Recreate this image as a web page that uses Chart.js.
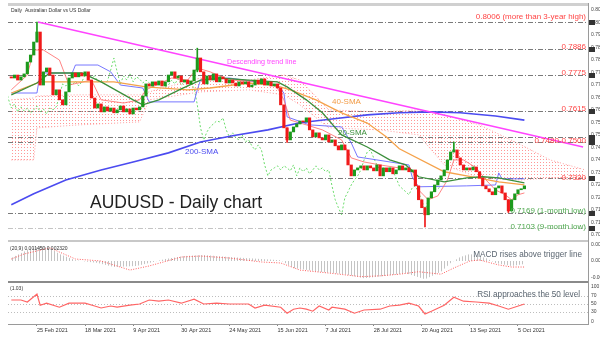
<!DOCTYPE html>
<html>
<head>
<meta charset="utf-8">
<script src="https://cdn.jsdelivr.net/npm/chart.js@4.4.1/dist/chart.umd.min.js"></script>
<style>
  html, body { margin: 0; padding: 0; background: #fff; }
  #wrap { position: relative; width: 600px; height: 340px; overflow: hidden; }
  #wrap div { position: absolute; left: 0; width: 600px; }
</style>
</head>
<body>
<div id="wrap">
  <div style="top:0;height:242px"><canvas id="main"></canvas></div>
  <div style="top:242px;height:41px"><canvas id="macd"></canvas></div>
  <div style="top:283px;height:57px"><canvas id="rsi"></canvas></div>
</div>
<script>
// AUDUSD daily candles, mid Feb - 6 Oct 2021 (bar index 0..160)
const firstOpen = 0.7765;
const closes = [
  0.7760, 0.7773, 0.7751, 0.7765, 0.7778, 0.7830, 0.7861, 0.7918, 0.7962, 0.7729,
  0.7787, 0.7804, 0.7773, 0.7686, 0.7708, 0.7664, 0.7642, 0.7699, 0.7760, 0.7782,
  0.7765, 0.7782, 0.7769, 0.7787, 0.7751, 0.7672, 0.7628, 0.7646, 0.7611, 0.7633,
  0.7615, 0.7628, 0.7607, 0.7620, 0.7637, 0.7611, 0.7624, 0.7602, 0.7628, 0.7620,
  0.7633, 0.7681, 0.7734, 0.7725, 0.7743, 0.7729, 0.7747, 0.7725, 0.7743, 0.7773,
  0.7787, 0.7760, 0.7769, 0.7743, 0.7751, 0.7734, 0.7747, 0.7795, 0.7848, 0.7787,
  0.7734, 0.7769, 0.7751, 0.7778, 0.7743, 0.7765, 0.7756, 0.7738, 0.7751, 0.7738,
  0.7725, 0.7743, 0.7734, 0.7743, 0.7721, 0.7729, 0.7751, 0.7734, 0.7756, 0.7729,
  0.7743, 0.7725, 0.7734, 0.7716, 0.7642, 0.7541, 0.7488, 0.7523, 0.7545, 0.7558,
  0.7571, 0.7567, 0.7585, 0.7532, 0.7501, 0.7519, 0.7497, 0.7488, 0.7510, 0.7479,
  0.7488, 0.7462, 0.7444, 0.7466, 0.7444, 0.7378, 0.7330, 0.7356, 0.7365, 0.7374,
  0.7356, 0.7374, 0.7365, 0.7352, 0.7378, 0.7330, 0.7365, 0.7348, 0.7365, 0.7339,
  0.7356, 0.7374, 0.7356, 0.7365, 0.7348, 0.7356, 0.7286, 0.7225, 0.7190, 0.7159,
  0.7233, 0.7260, 0.7290, 0.7312, 0.7330, 0.7356, 0.7400, 0.7435, 0.7444, 0.7409,
  0.7378, 0.7356, 0.7365, 0.7356, 0.7369, 0.7348, 0.7321, 0.7286, 0.7273, 0.7260,
  0.7247, 0.7277, 0.7286, 0.7255, 0.7225, 0.7176, 0.7225, 0.7251, 0.7269, 0.7273, 0.7286
];
// a few visible wicks
const wickIdx  = [8, 58, 86, 129, 138, 155];
const wickHigh = [0.8006, 0.7891, 0.7541, 0.7190, 0.7478, 0.7225];
const wickLow  = [0.7918, 0.7787, 0.7477, 0.7106, 0.7435, 0.7169];

const sma20Idx = [0, 8, 12, 22, 28, 38, 41, 46, 53, 59, 65, 74, 83, 86, 92, 97, 103, 111, 118, 123, 127, 135, 142, 147, 152, 160];
const sma20    = [0.7686, 0.7738, 0.7782, 0.7782, 0.7743, 0.7664, 0.7642, 0.7664, 0.7712, 0.7751, 0.7760, 0.7751, 0.7743, 0.7721, 0.7664, 0.7607, 0.7510, 0.7457, 0.7400, 0.7378, 0.7326, 0.7304, 0.7321, 0.7326, 0.7321, 0.7299];
const sma40Idx = [0, 9, 32, 42, 55, 62, 74, 82, 87, 95, 103, 111, 117, 121, 135, 142, 152, 160];
const sma40    = [0.7694, 0.7743, 0.7743, 0.7721, 0.7708, 0.7716, 0.7738, 0.7729, 0.7708, 0.7664, 0.7607, 0.7562, 0.7501, 0.7449, 0.7348, 0.7330, 0.7304, 0.7290];
const sma200Idx = [0, 7, 17, 28, 38, 49, 59, 69, 80, 90, 100, 111, 121, 131, 140, 151, 160];
const sma200    = [0.7203, 0.7251, 0.7312, 0.7356, 0.7391, 0.7431, 0.7479, 0.7506, 0.7532, 0.7563, 0.7580, 0.7598, 0.7607, 0.7611, 0.7607, 0.7593, 0.7575];

// ichimoku
const tenkanIdx = [0, 5, 7, 10, 15, 18, 25, 28, 35, 40, 42, 50, 55, 58, 62, 68, 80, 83, 85, 87, 92, 97, 103, 106, 110, 115, 125, 127, 130, 133, 136, 138, 141, 145, 148, 151, 154, 156, 158, 160];
const tenkan    = [0.7708, 0.7773, 0.7883, 0.7883, 0.7839, 0.7729, 0.7751, 0.7664, 0.7650, 0.7664, 0.7708, 0.7760, 0.7751, 0.7804, 0.7787, 0.7751, 0.7743, 0.7716, 0.7664, 0.7575, 0.7554, 0.7532, 0.7488, 0.7409, 0.7391, 0.7378, 0.7356, 0.7268, 0.7225, 0.7242, 0.7312, 0.7400, 0.7400, 0.7365, 0.7312, 0.7268, 0.7247, 0.7225, 0.7247, 0.7255];
const kijunIdx = [0, 8, 9, 19, 20, 27, 31, 34, 41, 43, 57, 58, 59, 68, 83, 85, 86, 93, 103, 106, 108, 114, 124, 125, 127, 142, 151, 152, 153, 160];
const kijun    = [0.7694, 0.7694, 0.7782, 0.7782, 0.7817, 0.7817, 0.7787, 0.7729, 0.7716, 0.7655, 0.7655, 0.7708, 0.7751, 0.7760, 0.7729, 0.7694, 0.7589, 0.7554, 0.7545, 0.7475, 0.7413, 0.7400, 0.7378, 0.7326, 0.7282, 0.7286, 0.7290, 0.7343, 0.7317, 0.7317];
const cloudIdx = [0, 7, 8, 21, 40, 43, 59, 74, 85, 90, 99, 115, 127, 135, 146, 159, 168, 179];
const spanA    = [0.7664, 0.7672, 0.7681, 0.7686, 0.7686, 0.7699, 0.7760, 0.7751, 0.7773, 0.7751, 0.7620, 0.7611, 0.7620, 0.7598, 0.7554, 0.7466, 0.7400, 0.7356];
const spanB    = [0.7400, 0.7400, 0.7541, 0.7554, 0.7567, 0.7664, 0.7699, 0.7708, 0.7686, 0.7642, 0.7541, 0.7532, 0.7510, 0.7378, 0.7321, 0.7312, 0.7321, 0.7321];
const chikouShift = 26;

const trendIdx = [8.3, 178.3];
const trendVal = [0.8006, 0.7457];

const levels = [0.8006, 0.7886, 0.7775, 0.7615, 0.7500, 0.7480, 0.7320, 0.7169, 0.7103];
const levelNotes = ['0.8006 (more than 3-year high)', '0.7886', '0.7775', '0.7615', '0.7480-0.7500', '0.7320', '0.7169 (1-month low)', '0.7103 (9-month low)'];
const noteAt = [0.8006, 0.7886, 0.7775, 0.7615, 0.7490, 0.7320, 0.7169, 0.7103];
const priceTicks = [0.8060, 0.8005, 0.7950, 0.7895, 0.7840, 0.7785, 0.7730, 0.7675, 0.7620, 0.7565, 0.7510, 0.7455, 0.7400, 0.7345, 0.7290, 0.7235, 0.7180, 0.7125, 0.7070];

// MACD
const macdIdx  = [0, 5, 9, 12, 15, 20, 27, 32, 39, 43, 48, 54, 60, 68, 78, 84, 88, 96, 104, 110, 117, 123, 129, 134, 137, 140, 143, 148, 151, 156, 160];
const macdMain = [0.00036, 0.00133, 0.0018, 0.0016, 0.00085, 0.0001, -0.00024, -0.00073, -0.0006, -0.00024, 0.00024, 0.0006, 0.00073, 0.00048, 0.00024, 0.0001, -0.00085, -0.0013, -0.0016, -0.0021, -0.0018, -0.0015, -0.0022, -0.0013, -0.00024, 0.00048, 0.00085, 0.00036, -0.00024, -0.0006, -0.00036];
const signalIdx  = [0, 4, 12, 20, 28, 37, 43, 53, 59, 68, 78, 84, 90, 100, 109, 115, 121, 127, 134, 138, 143, 146, 152, 156, 160];
const macdSignal = [0.00024, 0.00085, 0.0016, 0.00024, 0, -0.0011, -0.0006, 0.00048, 0.0006, 0.00036, -0.00012, -0.00024, -0.0011, -0.0015, -0.0019, -0.0018, -0.0016, -0.0013, -0.0016, -0.00085, 0, 0.00012, -0.00048, -0.00073, -0.00073];
const macdTicks = [0.002, 0, -0.002];

// RSI
const rsiIdx = [0, 3, 5, 8, 9, 11, 15, 18, 23, 26, 28, 31, 33, 37, 40, 43, 46, 49, 53, 57, 60, 64, 68, 74, 76, 79, 84, 86, 88, 90, 92, 94, 96, 99, 100, 104, 107, 110, 115, 118, 121, 124, 127, 129, 131, 135, 138, 141, 145, 149, 152, 155, 160];
const rsi    = [60, 60, 55, 75, 47, 52, 42, 52, 52, 45, 40, 45, 42, 47, 50, 60, 57, 60, 52, 62, 50, 52, 50, 50, 40, 47, 42, 27, 37, 40, 37, 32, 45, 35, 42, 37, 27, 35, 37, 45, 47, 52, 45, 25, 32, 47, 67, 57, 55, 52, 45, 37, 50];
const rsiLevels = [70, 50, 30];
const rsiTicks = [100, 70, 50, 30, 0];

const dateTickIdx = [8, 23, 38, 53, 68, 83, 98, 113, 128, 143, 158];
const dateLabels = ['25 Feb 2021', '18 Mar 2021', '9 Apr 2021', '30 Apr 2021', '24 May 2021', '15 Jun 2021', '7 Jul 2021', '28 Jul 2021', '20 Aug 2021', '13 Sep 2021', '5 Oct 2021'];

// ---------------------------------------------------------------
const FAM = '"Liberation Sans", Arial, sans-serif';
const fnt = (s, w) => (w ? w + ' ' : '') + s + 'px ' + FAM;
const pts = (idx, vals) => idx.map((x, k) => ({x: x, y: vals[k]}));
const X_MIN = -1.03, X_MAX = 179.83;
const PAD = {left: 8, right: 12};

function pattern(w, h, color) {
  const c = document.createElement('canvas');
  c.width = w; c.height = h;
  const g = c.getContext('2d');
  g.fillStyle = color;
  g.fillRect(0, 0, 1, 1);
  return g.createPattern(c, 'repeat');
}

const UP = '#1c9a1c', DOWN = '#f01a1a';
const opens = closes.map((c, i) => i === 0 ? firstOpen : closes[i - 1]);
const candleData = closes.map((c, i) => ({x: i, y: [opens[i], c]}));
const candleColors = closes.map((c, i) => c >= opens[i] ? UP : DOWN);
const wickData = wickIdx.map((x, k) => ({x: x, y: [wickLow[k], wickHigh[k]]}));
const wickColors = wickIdx.map(i => candleColors[i]);

const baseOpts = {
  responsive: true,
  maintainAspectRatio: false,
  animation: false,
  devicePixelRatio: 1,
  events: [],
  plugins: {legend: {display: false}, tooltip: {enabled: false}}
};

function rightLabels(ctx, scale, values, fmt, top, bottom) {
  ctx.font = fnt(5);
  ctx.fillStyle = '#444';
  ctx.textAlign = 'left';
  ctx.textBaseline = 'middle';
  values.forEach(v => {
    let py = scale.getPixelForValue(v);
    py = Math.max(top, Math.min(bottom, py));
    ctx.fillText(fmt(v), 591, py);
  });
}

// main panel decorations
const mainDecor = {
  id: 'mainDecor',
  beforeDatasetsDraw(chart) {
    const {ctx, chartArea: a, scales: {y}} = chart;
    ctx.save();
    ctx.lineWidth = 1;
    ctx.setLineDash([5, 2, 1, 2]);
    levels.forEach((v, k) => {
      const py = Math.round(y.getPixelForValue(v)) + 0.5;
      ctx.strokeStyle = k === levels.length - 1 ? '#c4c4c4' : '#7a7a7a';
      ctx.beginPath();
      ctx.moveTo(a.left, py);
      ctx.lineTo(a.right, py);
      ctx.stroke();
    });
    ctx.restore();
  },
  afterDatasetsDraw(chart) {
    const {ctx, chartArea: a, scales: {y}} = chart;
    ctx.save();
    // frame
    ctx.fillStyle = '#d0d0d0';
    ctx.fillRect(a.left, 3, a.right - a.left, 3);
    ctx.fillStyle = '#c8c8c8';
    ctx.fillRect(a.left, 240, a.right - a.left, 2);
    ctx.fillStyle = '#9a9a9a';
    ctx.fillRect(a.right, 3, 1, 240);

    // level notes
    const noteDy = [-3, -0.5, 0.5, 0.5, 3.5, 1.5, 0.5, 1.5];
    ctx.font = fnt(8);
    ctx.textAlign = 'right';
    ctx.textBaseline = 'alphabetic';
    levelNotes.forEach((t, k) => {
      ctx.fillStyle = k < 6 ? '#ff4545' : '#4fa84f';
      ctx.fillText(t, 586, y.getPixelForValue(noteAt[k]) + noteDy[k]);
    });

    // line labels
    ctx.textAlign = 'left';
    ctx.font = fnt(7.2);
    ctx.fillStyle = '#ff44ff';
    ctx.fillText('Descending trend line', 227, 64);
    ctx.font = fnt(8);
    ctx.fillStyle = '#f29b45';
    ctx.fillText('40-SMA', 332, 104);
    ctx.fillStyle = '#3c8f3c';
    ctx.fillText('20-SMA', 338, 135);
    ctx.fillStyle = '#4b4bf0';
    ctx.fillText('200-SMA', 185, 154);

    // title texts
    ctx.font = fnt(17.5);
    ctx.fillStyle = '#222';
    ctx.fillText('AUDUSD - Daily chart', 90, 208);
    ctx.font = fnt(5);
    ctx.fillStyle = '#333';
    ctx.fillText('Daily  Australian Dollar vs US Dollar', 11, 12);

    // right price axis
    rightLabels(ctx, y, priceTicks, v => v.toFixed(4), 9, 236);
    ctx.fillStyle = '#333';
    levels.forEach(v => {
      const py = Math.round(y.getPixelForValue(v));
      ctx.fillRect(589, py - 2, 6, 5);
    });
    ctx.restore();
  }
};

const cloudDots = pattern(3, 3, 'rgba(255,140,140,0.9)');

new Chart(document.getElementById('main'), {
  type: 'bar',
  data: {
    datasets: [
      {type: 'bar', data: candleData, backgroundColor: candleColors, barThickness: 2.5, grouped: false, minBarLength: 1, order: 1},
      {type: 'bar', data: wickData, backgroundColor: wickColors, barThickness: 1, grouped: false, order: 1},
      {type: 'line', data: pts(trendIdx, trendVal), borderColor: '#ff44ff', borderWidth: 1.6, pointRadius: 0, order: 2},
      {type: 'line', data: pts(sma20Idx, sma20), borderColor: '#3c8f3c', borderWidth: 1.3, pointRadius: 0, order: 2},
      {type: 'line', data: pts(sma40Idx, sma40), borderColor: '#f5a24a', borderWidth: 1.3, pointRadius: 0, order: 2},
      {type: 'line', data: pts(sma200Idx, sma200), borderColor: '#4b4bf0', borderWidth: 1.6, pointRadius: 0, order: 2},
      {type: 'line', data: pts(tenkanIdx, tenkan), borderColor: 'rgba(255,110,110,0.85)', borderWidth: 1, pointRadius: 0, order: 3},
      {type: 'line', data: pts(kijunIdx, kijun), borderColor: 'rgba(95,95,255,0.85)', borderWidth: 1, pointRadius: 0, order: 3},
      {type: 'line', data: closes.map((c, i) => ({x: i - chikouShift, y: c})), borderColor: '#6cdc6c', borderWidth: 1, borderDash: [2, 2], pointRadius: 0, order: 4},
      {type: 'line', data: pts(cloudIdx, spanA), borderColor: 'rgba(255,150,150,0.9)', borderWidth: 1, borderDash: [1, 2], pointRadius: 0, fill: false, order: 5},
      {type: 'line', data: pts(cloudIdx, spanB), borderColor: 'rgba(255,150,150,0.9)', borderWidth: 1, borderDash: [1, 2], pointRadius: 0, fill: '-1', backgroundColor: cloudDots, order: 5}
    ]
  },
  options: Object.assign({}, baseOpts, {
    layout: {padding: {left: PAD.left, right: PAD.right, top: 7, bottom: 1}},
    scales: {
      x: {type: 'linear', min: X_MIN, max: X_MAX, offset: false, display: false},
      y: {type: 'linear', min: 0.70438, max: 0.80719, display: false}
    }
  }),
  plugins: [mainDecor]
});

// MACD panel
const macdDecor = {
  id: 'macdDecor',
  afterDatasetsDraw(chart) {
    const {ctx, chartArea: a, scales: {y}} = chart;
    ctx.save();
    ctx.fillStyle = '#8a8a8a';
    ctx.fillRect(a.left, 39, a.right - a.left, 2);
    ctx.fillStyle = '#9a9a9a';
    ctx.fillRect(a.right, 0, 1, 41);
    ctx.font = fnt(5);
    ctx.fillStyle = '#333';
    ctx.textAlign = 'left';
    ctx.textBaseline = 'alphabetic';
    ctx.fillText('(20,9) 0.001450 0.002320', 10, 8);
    ctx.font = fnt(8.2);
    ctx.fillStyle = '#5a6570';
    ctx.textAlign = 'right';
    ctx.fillText('MACD rises above trigger line', 582, 15);
    rightLabels(ctx, y, macdTicks, v => v.toFixed(3), 3, 37);
    ctx.restore();
  }
};

new Chart(document.getElementById('macd'), {
  type: 'line',
  data: {
    datasets: [
      {data: pts(signalIdx, macdSignal), borderColor: '#ff5a5a', borderWidth: 1, borderDash: [1, 1.5], pointRadius: 0, order: 1},
      {data: pts(macdIdx, macdMain), borderWidth: 0, borderColor: 'rgba(0,0,0,0)', pointRadius: 0, fill: 'origin', backgroundColor: pattern(3, 1, '#c4c4c4'), order: 2}
    ]
  },
  options: Object.assign({}, baseOpts, {
    layout: {padding: {left: PAD.left, right: PAD.right, top: 1, bottom: 0}},
    scales: {
      x: {type: 'linear', min: X_MIN, max: X_MAX, offset: false, display: false},
      y: {type: 'linear', min: -0.002667, max: 0.002182, display: false}
    }
  }),
  plugins: [macdDecor]
});

// RSI panel
const rsiDecor = {
  id: 'rsiDecor',
  beforeDatasetsDraw(chart) {
    const {ctx, chartArea: a, scales: {y}} = chart;
    ctx.save();
    ctx.strokeStyle = '#bdbdbd';
    ctx.lineWidth = 1;
    ctx.setLineDash([1, 2]);
    rsiLevels.forEach(v => {
      const py = Math.round(y.getPixelForValue(v)) + 0.5;
      ctx.beginPath();
      ctx.moveTo(a.left, py);
      ctx.lineTo(a.right, py);
      ctx.stroke();
    });
    ctx.restore();
  },
  afterDatasetsDraw(chart) {
    const {ctx, chartArea: a, scales: {y}} = chart;
    ctx.save();
    ctx.fillStyle = '#9a9a9a';
    ctx.fillRect(a.left, a.bottom, a.right - a.left, 1);
    ctx.fillRect(a.right, 0, 1, a.bottom + 1);
    ctx.font = fnt(5);
    ctx.fillStyle = '#333';
    ctx.textAlign = 'left';
    ctx.textBaseline = 'alphabetic';
    ctx.fillText('(1.03)', 10, 7);
    ctx.font = fnt(8.2);
    ctx.fillStyle = '#5a6570';
    ctx.textAlign = 'right';
    ctx.fillText('RSI approaches the 50 level', 580, 14);
    rightLabels(ctx, y, rsiTicks, v => String(v), 4, 39);
    ctx.restore();
  }
};

new Chart(document.getElementById('rsi'), {
  type: 'line',
  data: {
    datasets: [
      {data: pts(rsiIdx, rsi), borderColor: '#ff6464', borderWidth: 1.2, pointRadius: 0}
    ]
  },
  options: Object.assign({}, baseOpts, {
    layout: {padding: {left: PAD.left, right: PAD.right, top: 1, bottom: 0}},
    scales: {
      x: {
        type: 'linear', min: X_MIN, max: X_MAX, offset: false,
        afterBuildTicks: s => { s.ticks = dateTickIdx.map(v => ({value: v})); },
        afterFit: s => { s.height = 16; },
        border: {display: false},
        grid: {drawOnChartArea: false, drawTicks: true, tickLength: 2, color: '#888'},
        ticks: {
          autoSkip: false, maxRotation: 0, minRotation: 0, align: 'start', padding: 1,
          font: {size: 5.5, family: FAM}, color: '#333',
          callback: (v, k) => dateLabels[k]
        }
      },
      y: {type: 'linear', min: 0, max: 100, display: false}
    }
  }),
  plugins: [rsiDecor]
});
</script>
</body>
</html>
